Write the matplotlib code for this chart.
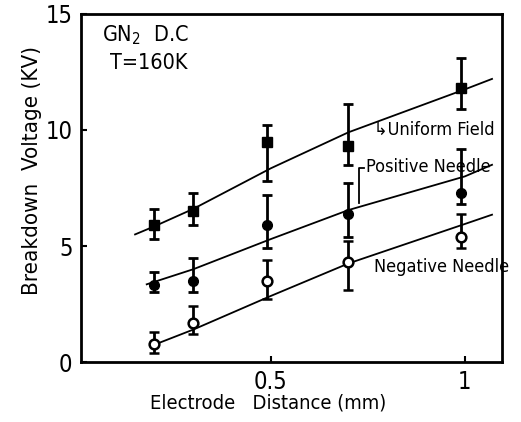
import matplotlib
matplotlib.use("Agg")
import matplotlib.pyplot as plt

plt.rcParams['font.family'] = ['DejaVu Sans']
plt.rcParams['font.stretch'] = 'condensed'

# measured data
x = [0.2, 0.3, 0.49, 0.7, 0.99]
uniform = [5.9, 6.5, 9.5, 9.3, 11.8]
uniform_hi = [6.6, 7.3, 10.2, 11.1, 13.1]
uniform_lo = [5.3, 5.9, 7.8, 8.5, 10.9]
positive = [3.3, 3.5, 5.9, 6.4, 7.3]
positive_hi = [3.9, 4.5, 7.2, 7.7, 9.2]
positive_lo = [3.0, 3.0, 4.9, 5.4, 6.8]
negative = [0.8, 1.7, 3.5, 4.3, 5.4]
negative_hi = [1.3, 2.4, 4.4, 5.2, 6.4]
negative_lo = [0.4, 1.2, 2.7, 3.1, 4.9]

# fitted curves
uni_fit_x = [0.15, 0.2, 0.3, 0.5, 0.7, 1.0, 1.07]
uni_fit_y = [5.5, 5.85, 6.6, 8.35, 9.9, 11.75, 12.2]
pos_fit_x = [0.18, 0.3, 0.5, 0.7, 1.0, 1.07]
pos_fit_y = [3.35, 4.0, 5.3, 6.55, 8.0, 8.5]
neg_fit_x = [0.2, 0.3, 0.5, 0.7, 1.0, 1.07]
neg_fit_y = [0.75, 1.4, 2.85, 4.25, 5.95, 6.35]

xticks = [0.5, 1.0]
xticklabels = ['0.5', '1']
yticks = [0, 5, 10, 15]
yticklabels = ['0', '5', '10', '15']

fig = plt.figure(figsize=(5.21, 4.22), dpi=100)
ax = fig.add_axes([0.155, 0.142, 0.808, 0.825])
ax.set_xlim(0.01, 1.095)
ax.set_ylim(0, 15)

def err(vals, hi, lo):
    return [[v - l for v, l in zip(vals, lo)], [h - v for v, h in zip(vals, hi)]]

ax.plot(uni_fit_x, uni_fit_y, color='black', lw=1.3)
ax.plot(pos_fit_x, pos_fit_y, color='black', lw=1.3)
ax.plot(neg_fit_x, neg_fit_y, color='black', lw=1.3)

ax.errorbar(x, uniform, yerr=err(uniform, uniform_hi, uniform_lo), fmt='s', color='black',
            ms=7, capsize=3.5, elinewidth=2, capthick=2)
ax.errorbar(x, positive, yerr=err(positive, positive_hi, positive_lo), fmt='o', color='black',
            ms=7, capsize=3.5, elinewidth=2, capthick=2)
ax.errorbar(x, negative, yerr=err(negative, negative_hi, negative_lo), fmt='o', color='black',
            mfc='white', mec='black', mew=1.8, ms=7, capsize=3.5, elinewidth=2, capthick=2)

for s in ax.spines.values():
    s.set_linewidth(2)

ax.set_xticks(xticks)
ax.set_xticklabels(xticklabels)
ax.set_yticks(yticks)
ax.set_yticklabels(yticklabels)
ax.tick_params(direction='in', length=4, width=1.5, labelsize=17, pad=6)

ax.set_xlabel('Electrode   Distance (mm)', fontsize=14.5)
ax.xaxis.set_label_coords(0.445, -0.09)
ax.set_ylabel('Breakdown  Voltage (KV)', fontsize=16)
ax.yaxis.set_label_coords(-0.093, 0.55)

ax.text(0.065, 14.1, 'GN$_2$  D.C', fontsize=15.5, ha='left', va='center')
ax.text(0.085, 12.9, 'T=160K', fontsize=15.5, ha='left', va='center')

ax.text(0.765, 10.0, '\u21b3Uniform Field', fontsize=13, ha='left', va='center')
ax.text(0.745, 8.4, 'Positive Needle', fontsize=13, ha='left', va='center')
ax.plot([0.726, 0.726, 0.74], [6.85, 8.35, 8.35], color='black', lw=1.3)
ax.text(0.765, 4.1, 'Negative Needle', fontsize=13, ha='left', va='center')

fig.savefig('out.png', dpi=100)
